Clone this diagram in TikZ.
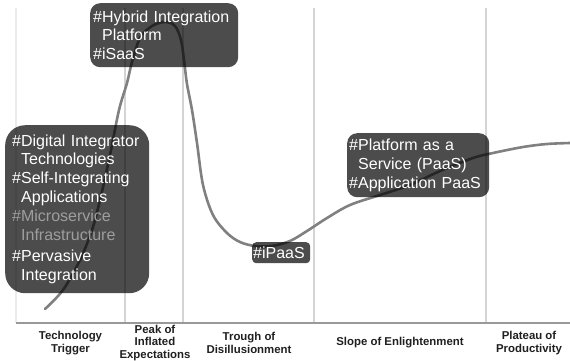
\documentclass[tikz,border=0pt]{standalone}
\usepackage{fontspec}
\setmainfont{Liberation Sans}
\begin{document}
\begin{tikzpicture}[x=1pt,y=-1pt,
  gridline/.style={draw=black!17, line width=1.4pt},
  hype/.style={draw=black!50, line width=2.6pt, line cap=round, line join=round},
  tagbox/.style={fill=black, fill opacity=0.7, text opacity=1, text=white,
    font=\fontsize{16}{18.8}\selectfont, align=left, anchor=north west,
    inner ysep=0pt},
  faded/.style={},
  phase/.style={font=\fontsize{11.4}{12.5}\selectfont\bfseries, text=black!88,
    align=center, inner sep=0pt}]
\useasboundingbox (0,0) rectangle (570,360);

% phase separators
\draw[gridline, draw=black!8] (16,8) -- (16,323);
\draw[gridline] (125,8) -- (125,323);
\draw[gridline] (183,8) -- (183,323);
\draw[gridline] (314,8) -- (314,323);
\draw[gridline] (486,8) -- (486,323);
\draw[draw=black!40, line width=1.2pt] (16,323) -- (570,323);

% hype curve
\draw[hype] plot[smooth, tension=0.55] coordinates {
  (45,309) (63,290) (80,260) (92,230) (100,200) (110,155) (119,110)
  (127,83) (132,62) (140,38) (152,26) (165,22) (175,26) (181,40)
  (184,60) (187,84) (192,110) (197,143) (203,185) (213,215) (227,233)
  (240,242) (255,246) (272,246) (290,241) (307,231) (327,218) (350,205)
  (380,195) (410,185) (440,171) (473,158) (493,153) (523,147) (547,144)
  (570,143)};

% technology tags
\node[tagbox, rounded corners=10pt, inner xsep=3pt, text width=142pt,
  minimum height=64pt] (hybrid) at (90,3)
  {\#Hybrid Integration\\\hspace*{9pt}Platform\\\#iSaaS};
\node[tagbox, rounded corners=20pt, inner xsep=7pt, text width=130pt,
  minimum height=168pt] (digital) at (5,125)
  {\#Digital Integrator\\\hspace*{9pt}Technologies\\\#Self-Integrating\\
   \hspace*{9pt}Applications\\{\color{black!38}\#Microservice}\\
   \hspace*{9pt}{\color{black!38}Infrastructure}\\[3pt]\#Pervasive\\
   \hspace*{9pt}Integration};
\node[tagbox, rounded corners=4pt, inner xsep=1pt, text width=56pt,
  minimum height=21pt] (ipaas) at (252,242) {\#iPaaS};
\node[tagbox, rounded corners=10pt, inner xsep=2pt, text width=138pt,
  minimum height=64pt] (paas) at (347,133)
  {\#Platform as a\\\hspace*{9pt}Service (PaaS)\\\#Application PaaS};

% phase names
\node[phase] (trigger) at (70.5,343) {Technology\\Trigger};
\node[phase] (peak) at (155,343) {Peak of\\Inflated\\Expectations};
\node[phase] (trough) at (249,343) {Trough of\\Disillusionment};
\node[phase] (slope) at (400,343) {Slope of Enlightenment};
\node[phase] (plateau) at (529,343) {Plateau of\\Productivity};
\end{tikzpicture}
\end{document}
